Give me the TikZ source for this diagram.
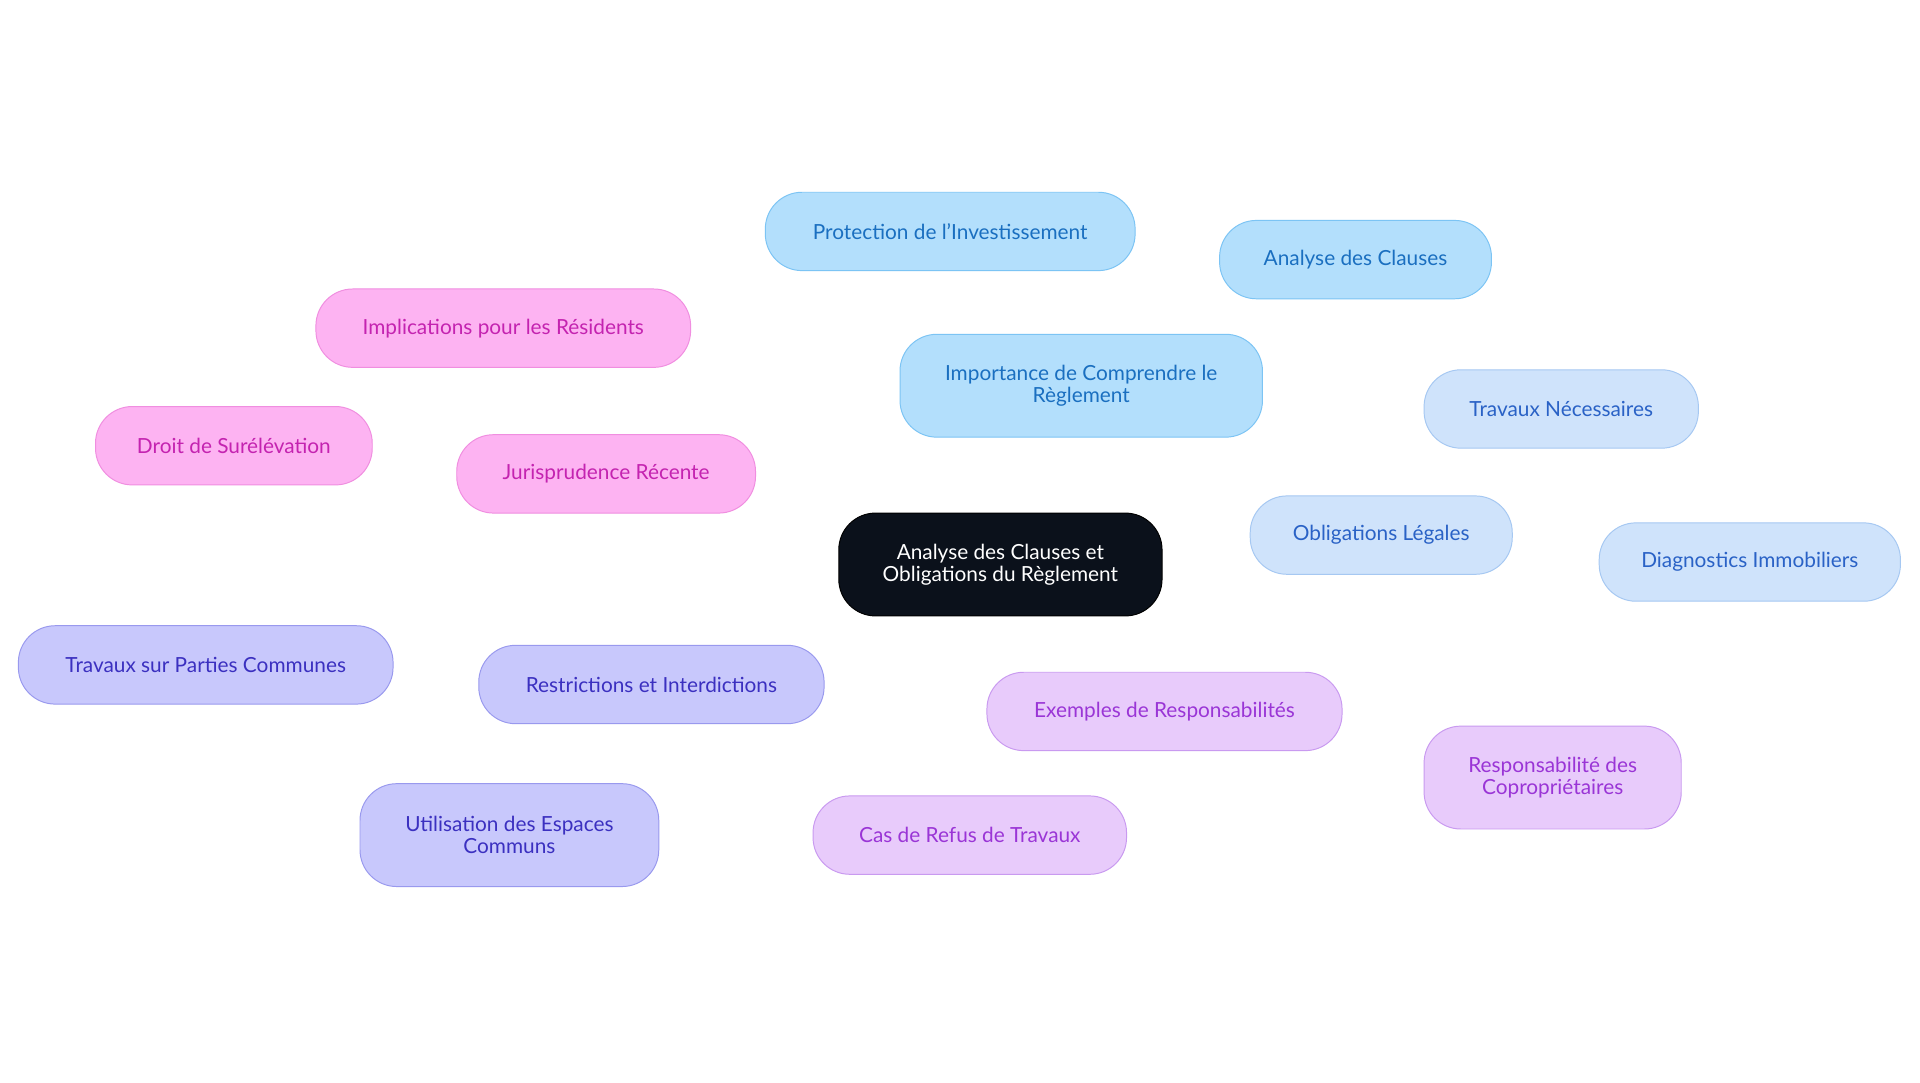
\documentclass[tikz,border=0pt]{standalone}
\usepackage{fontspec}
\setmainfont{Lato}
\usetikzlibrary{backgrounds}
\definecolor{rootc}{HTML}{0B111B}
\definecolor{bF}{HTML}{B3DFFC}\definecolor{bD}{HTML}{7CC4F4}\definecolor{bT}{HTML}{1A6FC0}
\definecolor{lF}{HTML}{CFE3FB}\definecolor{lD}{HTML}{A6C8F2}\definecolor{lT}{HTML}{2A62C6}
\definecolor{pF}{HTML}{E8CBFB}\definecolor{pD}{HTML}{C99AF0}\definecolor{pT}{HTML}{9A35D6}
\definecolor{iF}{HTML}{C8C8FC}\definecolor{iD}{HTML}{9999EE}\definecolor{iT}{HTML}{3B30C0}
\definecolor{mF}{HTML}{FDB3F2}\definecolor{mD}{HTML}{F08EE0}\definecolor{mT}{HTML}{C423B0}
\tikzset{
 base/.style={rounded corners=30pt,draw,line width=0.8pt,align=center,font=\fontsize{17}{18}\selectfont,inner sep=0pt},
 nb/.style 2 args={base,minimum width=#1,minimum height=#2},
 blue/.style={fill=bF,draw=bD,text=bT},
 lblue/.style={fill=lF,draw=lD,text=lT},
 purp/.style={fill=pF,draw=pD,text=pT},
 indi/.style={fill=iF,draw=iD,text=iT},
 mag/.style={fill=mF,draw=mD,text=mT},
 ed/.style={line width=2pt,draw=#1}
}
\begin{document}
\begin{tikzpicture}[x=1pt,y=-1pt]
\useasboundingbox[fill=white] (0,0) rectangle (1568,884);
\node[nb={264pt}{84pt},fill=rootc,draw=black,text=white] (root) at (817,461) {Analyse des Clauses et\\Obligations du Règlement};
\node[nb={296pt}{84pt},blue] (imp) at (883,315) {Importance de Comprendre le\\Règlement};
\node[nb={302pt}{64pt},blue] (prot) at (776,189) {Protection de l'Investissement};
\node[nb={222pt}{64pt},blue] (anal) at (1107,212) {Analyse des Clauses};
\node[nb={214pt}{64pt},lblue] (obl) at (1128,437) {Obligations Légales};
\node[nb={224pt}{64pt},lblue] (trn) at (1275,334) {Travaux Nécessaires};
\node[nb={246pt}{64pt},lblue] (diag) at (1429,459) {Diagnostics Immobiliers};
\node[nb={290pt}{64pt},purp] (ex) at (951,581) {Exemples de Responsabilités};
\node[nb={210pt}{84pt},purp] (resp) at (1268,635) {Responsabilité des\\Copropriétaires};
\node[nb={256pt}{64pt},purp] (cas) at (792,682) {Cas de Refus de Travaux};
\node[nb={282pt}{64pt},indi] (rest) at (532,559) {Restrictions et Interdictions};
\node[nb={306pt}{64pt},indi] (tpc) at (168,543) {Travaux sur Parties Communes};
\node[nb={244pt}{84pt},indi] (util) at (416,682) {Utilisation des Espaces\\Communs};
\node[nb={244pt}{64pt},mag] (jur) at (495,387) {Jurisprudence Récente};
\node[nb={306pt}{64pt},mag] (impl) at (411,268) {Implications pour les Résidents};
\node[nb={226pt}{64pt},mag] (droit) at (191,364) {Droit de Surélévation};
\begin{scope}[on background layer]
\draw[ed=bD] (root) -- (imp); \draw[ed=bD] (imp) -- (prot); \draw[ed=bD] (imp) -- (anal);
\draw[ed=lD] (root) -- (obl); \draw[ed=lD] (obl) -- (trn); \draw[ed=lD] (obl) -- (diag);
\draw[ed=pD] (root) -- (ex); \draw[ed=pD] (ex) -- (resp); \draw[ed=pD] (ex) -- (cas);
\draw[ed=iD] (root) -- (rest); \draw[ed=iD] (rest) -- (tpc); \draw[ed=iD] (rest) -- (util);
\draw[ed=mD] (root) -- (jur); \draw[ed=mD] (jur) -- (impl); \draw[ed=mD] (jur) -- (droit);
\end{scope}
\end{tikzpicture}
\end{document}
